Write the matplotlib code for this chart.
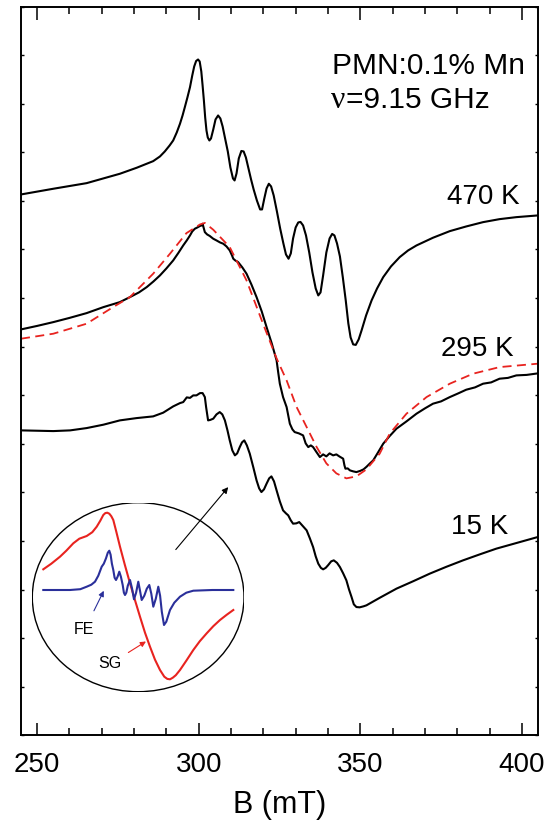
import numpy as np
import matplotlib
matplotlib.use("Agg")
import matplotlib.pyplot as plt
from matplotlib.patches import Ellipse

plt.rcParams['font.family'] = ['Liberation Sans', 'DejaVu Sans']

# ---- EPR spectra of PMN:0.1% Mn (field in mT, signal in arbitrary units, vertically offset) ----
B_470 = [245.0, 255.0, 265.3, 275.6, 280.8, 285.9, 288.0, 289.5, 291.0, 292.1, 293.2, 294.2,
         295.0, 295.7, 296.5, 297.3, 298.0, 298.6, 299.2, 299.8, 300.3, 300.8, 301.2, 301.6,
         302.0, 302.4, 302.8, 303.3, 303.8, 304.5, 305.2, 306.0, 306.7, 307.4, 308.1, 309.0,
         309.8, 310.6, 311.1, 311.7, 312.4, 313.2, 313.9, 314.6, 315.4, 316.2, 317.0, 318.0,
         319.0, 319.6, 320.3, 321.0, 321.7, 322.4, 323.2, 324.2, 325.2, 326.2, 327.0, 327.8,
         328.5, 329.2, 330.0, 330.8, 331.5, 332.3, 333.2, 334.2, 335.2, 336.2, 337.0, 337.7,
         338.5, 339.5, 340.5, 341.3, 342.0, 342.8, 343.7, 344.6, 345.5, 346.3, 347.0, 347.8,
         348.6, 349.5, 350.4, 351.8, 353.5, 355.2, 357.1, 359.5, 362.2, 364.8, 367.4, 372.5,
         377.7, 382.8, 388.0, 393.1, 398.3, 404.9]
S_470 = [541.0, 546.7, 552.3, 561.7, 567.7, 574.3, 579.0, 584.0, 590.0, 595.0, 603.0, 611.7,
         620.0, 628.3, 638.0, 648.3, 660.0, 669.0, 674.5, 676.0, 674.0, 664.0, 650.0, 635.0,
         618.0, 605.0, 598.0, 595.0, 597.0, 606.0, 616.0, 620.0, 617.0, 609.0, 598.0, 584.0,
         568.0, 557.0, 555.0, 562.0, 577.0, 584.5, 584.0, 578.0, 567.0, 556.0, 546.0, 535.0,
         526.0, 526.0, 537.0, 547.0, 551.7, 549.0, 540.0, 524.0, 507.0, 492.0, 481.0, 476.7,
         482.0, 497.0, 508.0, 513.0, 513.5, 510.0, 500.0, 483.0, 463.0, 447.0, 440.0, 443.0,
         460.0, 483.0, 497.0, 501.5, 500.0, 492.0, 479.0, 458.0, 435.0, 412.0, 398.0, 391.0,
         390.5, 396.0, 405.0, 420.0, 435.0, 447.0, 458.3, 469.0, 478.3, 485.0, 490.0, 497.7,
         504.3, 509.0, 513.3, 516.3, 518.3, 520.0]

B_295 = [245.0, 250.0, 255.0, 260.0, 265.3, 270.5, 275.6, 278.7, 281.5, 283.9, 286.0, 288.0,
         290.0, 292.1, 293.7, 295.2, 296.3, 297.3, 298.0, 298.8, 299.6, 300.4, 300.9, 301.2,
         301.5, 301.9, 302.6, 303.4, 304.5, 305.5, 306.6, 307.6, 308.6, 309.6, 310.3, 310.7,
         311.3, 312.2, 313.5, 314.8, 316.3, 317.9, 319.5, 321.0, 322.6, 324.1, 324.6, 325.1,
         326.1, 327.2, 328.2, 329.0, 329.7, 331.0, 332.3, 333.1, 333.9, 334.7, 335.4, 336.5,
         337.5, 338.5, 339.5, 340.5, 341.6, 342.6, 343.5, 344.7, 345.1, 345.4, 346.1, 346.8,
         347.8, 348.8, 350.0, 351.0, 351.9, 353.0, 354.0, 355.5, 357.1, 359.0, 361.2, 364.3,
         367.4, 370.0, 372.5, 375.0, 377.7, 380.3, 382.8, 385.5, 388.0, 390.5, 393.1, 395.7,
         398.3, 401.5, 404.9]
S_295 = [406.0, 409.5, 413.3, 417.5, 422.3, 428.3, 433.3, 438.3, 443.0, 448.3, 454.0, 460.0,
         467.0, 475.0, 482.5, 490.0, 495.0, 500.0, 504.0, 506.7, 508.0, 509.5, 510.0, 511.7,
         508.0, 503.3, 501.0, 499.5, 496.7, 495.0, 493.0, 491.7, 489.0, 485.0, 480.0, 476.7,
         475.0, 473.3, 468.0, 461.7, 451.0, 438.3, 424.0, 408.3, 392.0, 375.0, 363.0, 351.7,
         338.3, 328.3, 311.7, 306.0, 303.3, 302.0, 300.0, 292.0, 288.3, 290.0, 288.3, 283.0,
         278.3, 281.0, 279.0, 282.0, 280.0, 281.0, 279.0, 276.7, 270.0, 266.7, 267.0, 265.0,
         264.0, 263.3, 264.5, 266.0, 268.5, 272.0, 275.0, 283.0, 291.7, 299.0, 306.7, 314.0,
         321.7, 327.0, 331.7, 334.0, 338.3, 342.0, 345.7, 348.0, 351.7, 353.0, 356.7, 357.5,
         360.0, 360.5, 362.0]

# simulated spin-glass line shape for 295 K
B_fit = [245.0, 255.0, 265.3, 273.5, 278.7, 285.9, 291.1, 296.2, 300.4, 301.9, 304.5, 309.6,
         314.8, 319.9, 324.1, 327.2, 330.3, 333.4, 336.5, 339.5, 342.6, 345.7, 348.8, 351.9,
         356.0, 359.1, 364.3, 370.5, 377.7, 384.9, 393.1, 404.9]
S_fit = [396.7, 401.7, 411.7, 428.3, 438.3, 461.7, 481.7, 502.3, 511.0, 512.5, 505.7, 488.3,
         455.0, 411.7, 377.0, 355.0, 328.3, 308.3, 288.3, 272.0, 262.0, 257.0, 259.0, 266.0,
         281.7, 301.7, 321.7, 338.3, 351.7, 361.7, 368.3, 371.7]

B_15 = [245.0, 255.0, 260.2, 265.3, 270.5, 275.6, 280.8, 285.9, 289.0, 292.1, 294.2, 295.2,
        296.3, 297.3, 298.3, 299.3, 300.4, 301.2, 301.9, 302.3, 302.9, 303.6, 304.5, 305.5,
        306.5, 307.3, 308.1, 308.9, 309.6, 310.4, 311.2, 311.9, 312.7, 313.4, 314.1, 314.9,
        315.8, 316.9, 317.9, 318.7, 319.4, 320.2, 321.0, 321.8, 322.5, 323.3, 324.1, 325.1,
        326.1, 327.0, 327.7, 328.5, 329.2, 330.2, 331.1, 332.3, 333.4, 334.4, 335.4, 336.2,
        337.0, 337.8, 338.5, 339.3, 340.0, 341.0, 341.8, 342.8, 343.7, 344.7, 345.7, 346.5,
        347.3, 348.0, 348.8, 349.8, 351.0, 351.9, 356.0, 361.2, 366.3, 371.5, 376.6, 381.8,
        387.0, 392.1, 398.5, 404.9]
S_15 = [305.0, 304.3, 305.0, 307.3, 310.7, 315.0, 317.3, 319.0, 322.7, 329.0, 332.3, 333.3,
        338.0, 337.5, 340.0, 340.0, 342.3, 342.3, 338.3, 328.0, 315.0, 315.5, 316.7, 321.0,
        323.3, 321.0, 315.0, 305.0, 295.0, 285.0, 280.0, 282.0, 288.3, 293.0, 295.0, 290.0,
        281.7, 268.0, 255.0, 247.0, 243.3, 246.0, 251.7, 257.0, 259.0, 254.0, 245.0, 234.0,
        225.0, 222.0, 220.0, 215.0, 211.7, 212.0, 213.3, 209.0, 205.0, 197.0, 188.3, 179.0,
        171.7, 167.5, 166.0, 167.5, 170.0, 174.0, 175.0, 172.5, 168.3, 162.0, 155.0, 146.0,
        138.3, 131.0, 128.3, 128.0, 129.0, 130.0, 137.5, 146.7, 154.0, 161.7, 168.5, 175.0,
        181.0, 186.7, 192.5, 198.3]

# ---- inset sketch: spin-glass (SG) and ferroelectric (FE) components ----
sg_x = [11.0, 19.0, 27.7, 34.0, 41.0, 47.0, 54.4, 60.0, 64.4, 68.0, 71.0, 73.0, 75.0, 77.0,
        79.0, 81.0, 84.0, 87.7, 92.5, 97.7, 102.7, 107.7, 112.7, 117.7, 122.7, 127.7, 132.0,
        135.0, 137.7, 140.5, 143.5, 147.7, 154.0, 161.0, 167.5, 174.4, 181.0, 187.7, 194.5,
        201.0]
sg_y = [122.4, 128.0, 135.0, 141.0, 148.4, 153.0, 155.7, 159.5, 165.0, 171.0, 176.7, 178.6,
        179.0, 178.0, 175.5, 171.7, 160.0, 145.0, 127.0, 108.4, 91.5, 75.0, 59.0, 45.0, 32.0,
        21.7, 15.0, 12.8, 12.4, 14.0, 16.5, 21.7, 31.0, 41.7, 50.5, 58.4, 65.5, 71.7, 77.0,
        81.7]
fe_x = [11.0, 37.7, 48.0, 54.4, 59.0, 62.7, 66.0, 69.4, 71.5, 73.7, 75.5, 77.0, 78.3, 79.6,
        81.0, 82.3, 83.7, 85.3, 87.0, 88.6, 90.4, 91.6, 92.7, 94.0, 95.5, 97.7, 99.8, 101.7,
        103.8, 106.0, 107.7, 109.4, 112.0, 114.5, 117.0, 119.0, 121.0, 123.5, 126.0, 127.8,
        129.5, 131.7, 134.0, 137.7, 142.0, 147.7, 154.0, 161.0, 180.0, 201.0]
fe_y = [101.7, 101.7, 102.5, 105.0, 107.0, 110.0, 116.0, 125.0, 128.0, 133.4, 139.0, 141.0,
        137.0, 128.0, 121.7, 114.0, 111.7, 115.0, 120.0, 115.0, 106.7, 99.0, 96.7, 99.0,
        106.0, 111.7, 103.0, 92.4, 99.0, 110.0, 101.0, 91.7, 96.0, 103.0, 106.7, 98.0, 85.0,
        93.0, 105.0, 96.0, 80.0, 66.7, 70.0, 81.7, 89.0, 95.0, 99.0, 101.0, 101.7, 101.7]

x_ticks = [250, 300, 350, 400]
x_limits = (245, 405)
y_limits = (0, 729)

W, H = 555, 823
fig = plt.figure(figsize=(W / 100, H / 100), dpi=100)
ax = fig.add_axes([21 / W, 1 - 735.3 / H, 517 / W, 728.8 / H])

ax.plot(B_470, S_470, color='black', lw=1.5)
ax.plot(B_295, S_295, color='black', lw=1.5)
ax.plot(B_fit, S_fit, color='#e8231f', lw=1.3, dashes=(5, 3))
ax.plot(B_15, S_15, color='black', lw=1.5)

ax.set_xlim(*x_limits)
ax.set_ylim(*y_limits)
ax.set_xticks(x_ticks)
ax.set_xticklabels([str(t) for t in x_ticks])
ax.set_xticks(np.arange(250, 405, 10), minor=True)
ax.set_yticks(np.linspace(y_limits[0], y_limits[1], 16))
ax.set_yticklabels([])
ax.tick_params(axis='x', which='major', direction='in', length=9, width=1.1,
               top=True, labelsize=20, pad=12)
ax.tick_params(axis='x', which='minor', direction='in', length=4.8, width=1.1, top=True)
ax.tick_params(axis='y', which='major', direction='in', length=2.2, width=1.0,
               right=True, left=True)
for sp in ax.spines.values():
    sp.set_linewidth(1.4)
ax.set_xlabel('B (mT)', fontsize=22, labelpad=9)


def px(x, y):
    return x / W, 1 - y / H


# labels
fig.text(*px(331.5, 74.5), 'PMN:0.1% Mn', fontsize=21.5, va='baseline', ha='left')
fig.text(*px(331.0, 108.5), 'ν', fontsize=23, va='baseline', ha='left',
         family=['Liberation Serif', 'DejaVu Serif'])
fig.text(*px(346.5, 108.5), '=9.15 GHz', fontsize=21.5, va='baseline', ha='left')
fig.text(*px(520, 203.5), '470 K', fontsize=20, va='baseline', ha='right')
fig.text(*px(513.5, 355.5), '295 K', fontsize=20, va='baseline', ha='right')
fig.text(*px(508.5, 533.5), '15 K', fontsize=20, va='baseline', ha='right')

# inset
axi = fig.add_axes([32.3 / W, 1 - 691.7 / H, 211.7 / W, 189 / H])
axi.set_xlim(0, 211.7)
axi.set_ylim(0, 189)
axi.axis('off')
axi.patch.set_alpha(0)
axi.add_patch(Ellipse((0.5, 0.5), 1, 1, transform=axi.transAxes, fill=False,
                      lw=1.0, color='black'))
axi.plot(sg_x, sg_y, color='#e8231f', lw=1.5)
axi.plot(fe_x, fe_y, color='#2a2f9a', lw=1.5)

fig.text(*px(73.3, 633.5), 'FE', fontsize=11.5, va='baseline', ha='left')
fig.text(*px(98.3, 668.5), 'SG', fontsize=11.5, va='baseline', ha='left')

arrow_kw = dict(xycoords='figure pixels', textcoords='figure pixels')
ax.annotate('', xy=(105, H - 588.3), xytext=(92.7, H - 613.3), **arrow_kw,
            arrowprops=dict(arrowstyle='-|>', color='#2a2f9a', lw=0.8, mutation_scale=8))
ax.annotate('', xy=(148.3, H - 640), xytext=(126, H - 654), **arrow_kw,
            arrowprops=dict(arrowstyle='-|>', color='#e8231f', lw=0.8, mutation_scale=8))
ax.annotate('', xy=(230, H - 485), xytext=(174, H - 551.7), **arrow_kw,
            arrowprops=dict(arrowstyle='-|>', color='black', lw=0.8, mutation_scale=9))

fig.savefig('out.png', dpi=100)
